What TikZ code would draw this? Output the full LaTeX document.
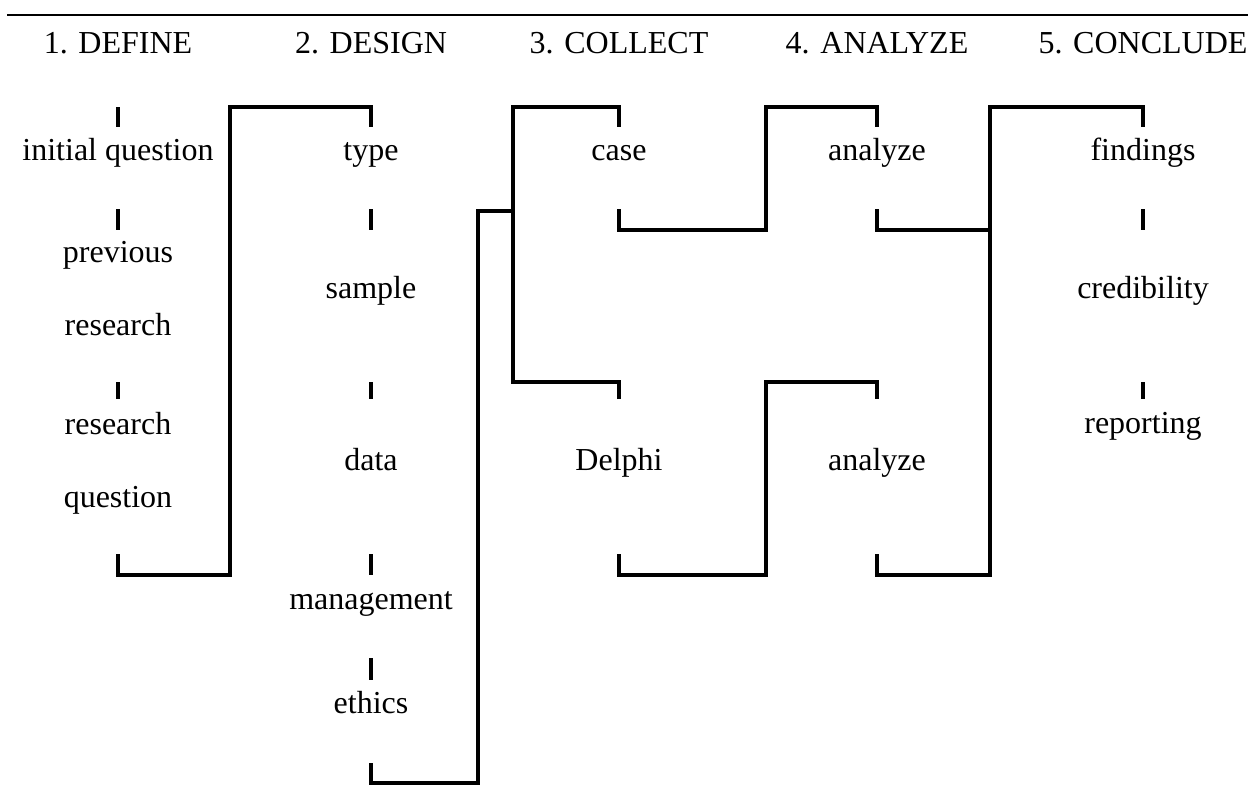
\documentclass[tikz,border=0pt]{standalone}
\usepackage{fontspec}
\setmainfont{Liberation Serif}
\begin{document}
\begin{tikzpicture}[x=0.75pt,y=-0.75pt,
  conn/.style={line width=3pt, line join=miter, line cap=butt},
  rule/.style={line width=1.5pt},
  lbl/.style={anchor=base, inner sep=0pt, font=\fontsize{24}{28}\selectfont}]
\useasboundingbox (0,0) rectangle (1248,807);
% column and row positions
\coordinate (X1) at (118,0);
\coordinate (X2) at (371,0);
\coordinate (X3) at (619,0);
\coordinate (X4) at (877,0);
\coordinate (X5) at (1143,0);
\coordinate (Xa) at (230,0);
\coordinate (Xb) at (478,0);
\coordinate (Xc) at (513,0);
\coordinate (Xd) at (766,0);
\coordinate (Xe) at (990,0);
\coordinate (Ya) at (0,107);
\coordinate (Yb) at (0,127);
\coordinate (Yc) at (0,209);
\coordinate (Yd) at (0,230);
\coordinate (Yj) at (0,211);
\coordinate (Ye) at (0,382);
\coordinate (Yf) at (0,399);
\coordinate (Yg) at (0,554);
\coordinate (Yh) at (0,575);
\coordinate (Yi) at (0,658);
\coordinate (Yk) at (0,680);
\coordinate (Yl) at (0,763);
\coordinate (Ym) at (0,783);
% top rule
\coordinate (RL) at (7,15);
\coordinate (RR) at (1248,15);
\draw[rule] (RL) -- (RR);
% headers
\node[lbl] (h1) at (118,53) {1. DEFINE};
\node[lbl] (h2) at (371,53) {2. DESIGN};
\node[lbl] (h3) at (619,53) {3. COLLECT};
\node[lbl] (h4) at (877,53) {4. ANALYZE};
\node[lbl] (h5) at (1143,53) {5. CONCLUDE};
% column 1
\node[lbl] (iq) at (118,160) {initial question};
\node[lbl] (pr1) at (118,262) {previous};
\node[lbl] (pr2) at (118,335) {research};
\node[lbl] (rq1) at (118,434) {research};
\node[lbl] (rq2) at (118,507) {question};
% column 2
\node[lbl] (ty) at (371,160) {type};
\node[lbl] (sa) at (371,298) {sample};
\node[lbl] (da) at (371,470) {data};
\node[lbl] (ma) at (371,609) {management};
\node[lbl] (et) at (371,713) {ethics};
% column 3
\node[lbl] (ca) at (619,160) {case};
\node[lbl] (de) at (619,470) {Delphi};
% column 4
\node[lbl] (an1) at (877,160) {analyze};
\node[lbl] (an2) at (877,470) {analyze};
% column 5
\node[lbl] (fi) at (1143,160) {findings};
\node[lbl] (cr) at (1143,298) {credibility};
\node[lbl] (re) at (1143,433) {reporting};
% single ticks
\draw[conn] (X1|-Ya) -- (X1|-Yb);
\draw[conn] (X1|-Yc) -- (X1|-Yd);
\draw[conn] (X1|-Ye) -- (X1|-Yf);
\draw[conn] (X2|-Yc) -- (X2|-Yd);
\draw[conn] (X2|-Ye) -- (X2|-Yf);
\draw[conn] (X2|-Yg) -- (X2|-Yh);
\draw[conn] (X2|-Yi) -- (X2|-Yk);
\draw[conn] (X5|-Yc) -- (X5|-Yd);
\draw[conn] (X5|-Ye) -- (X5|-Yf);
% connectors
\draw[conn] (X1|-Yg) -- (X1|-Yh) -- (Xa|-Yh) -- (Xa|-Ya) -- (X2|-Ya) -- (X2|-Yb);
\draw[conn] (X2|-Yl) -- (X2|-Ym) -- (Xb|-Ym) -- (Xb|-Yj) -- (Xc|-Yj);
\draw[conn] (X3|-Yf) -- (X3|-Ye) -- (Xc|-Ye) -- (Xc|-Ya) -- (X3|-Ya) -- (X3|-Yb);
\draw[conn] (X3|-Yc) -- (X3|-Yd) -- (Xd|-Yd) -- (Xd|-Ya) -- (X4|-Ya) -- (X4|-Yb);
\draw[conn] (X3|-Yg) -- (X3|-Yh) -- (Xd|-Yh) -- (Xd|-Ye) -- (X4|-Ye) -- (X4|-Yf);
\draw[conn] (X4|-Yc) -- (X4|-Yd) -- (Xe|-Yd);
\draw[conn] (X4|-Yg) -- (X4|-Yh) -- (Xe|-Yh) -- (Xe|-Ya) -- (X5|-Ya) -- (X5|-Yb);
\end{tikzpicture}
\end{document}
